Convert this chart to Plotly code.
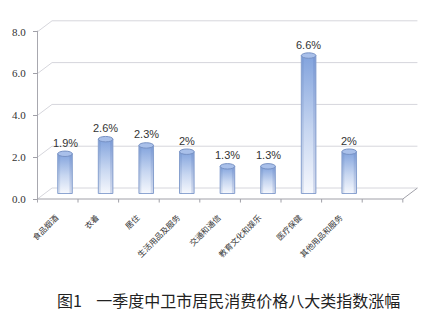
import plotly.graph_objects as go

categories = ["食品烟酒", "衣着", "居住", "生活用品及服务", "交通和通信", "教育文化和娱乐", "医疗保健", "其他用品和服务"]
values = [1.9, 2.6, 2.3, 2.0, 1.3, 1.3, 6.6, 2.0]
y_ticks = [0, 2, 4, 6, 8]
title_text = "图1\u00a0\u00a0\u00a0\u00a0一季度中卫市居民消费价格八大类指数涨幅"

# perspective offsets (data units)
DX = 0.18
DY = 0.263
BW = 0.36
N_SLOTS = 9

X_RANGE = [-0.69, 8.694]
Y_RANGE = [-0.502, 8.397]

fig = go.Figure()

shapes = []
grid_c = "#d6d6dc"
edge_c = "#a0a0a8"
x_left = -0.5
x_right = N_SLOTS - 0.5
for t in y_ticks:
    path = (f"M {x_left-DX},{t-DY} L {x_left+DX},{t+DY} L {x_right+DX},{t+DY}")
    shapes.append(dict(type="path", path=path, xref="x", yref="y",
                       line=dict(color=grid_c, width=1), layer="below"))
# floor front edge and right diagonal
shapes.append(dict(type="path",
                   path=f"M {x_left-DX},{-DY} L {x_right-DX},{-DY} L {x_right+DX},{DY}",
                   xref="x", yref="y", line=dict(color=edge_c, width=1), layer="below"))
# front y axis line
shapes.append(dict(type="line", x0=x_left-DX, x1=x_left-DX, y0=-DY, y1=y_ticks[-1]-DY+0.05,
                   xref="x", yref="y", line=dict(color=edge_c, width=1), layer="below"))
# category boundary ticks on floor front edge
for k in range(N_SLOTS + 1):
    xb = k - 0.5 - DX
    shapes.append(dict(type="line", x0=xb, x1=xb, y0=-DY, y1=-DY-0.17,
                       xref="x", yref="y", line=dict(color=edge_c, width=1), layer="below"))

# bars as gradient-filled cylinders
for i, v in enumerate(values):
    xs = [i - BW/2, i + BW/2, i + BW/2, i - BW/2, i - BW/2]
    ys = [0, 0, v, v, 0]
    fig.add_trace(go.Scatter(
        x=xs, y=ys, mode="lines", fill="toself",
        line=dict(color="#8ea6d2", width=1),
        fillgradient=dict(type="vertical",
                          colorscale=[[0, "#f6f8fd"], [0.45, "#c8d7f1"], [1, "#82a3dd"]]),
        hoverinfo="skip", showlegend=False))
    # darker side shading
    fig.add_trace(go.Scatter(
        x=[i - BW/2, i - BW/2 + 0.06, i - BW/2 + 0.06, i - BW/2, i - BW/2],
        y=[0, 0, v, v, 0], mode="lines", fill="toself",
        line=dict(width=0), fillcolor="rgba(90,120,180,0.18)",
        hoverinfo="skip", showlegend=False))
    fig.add_trace(go.Scatter(
        x=[i + BW/2 - 0.07, i + BW/2, i + BW/2, i + BW/2 - 0.07, i + BW/2 - 0.07],
        y=[0, 0, v, v, 0], mode="lines", fill="toself",
        line=dict(width=0), fillcolor="rgba(90,120,180,0.22)",
        hoverinfo="skip", showlegend=False))
    shapes.append(dict(type="circle", xref="x", yref="y",
                       x0=i - BW/2, x1=i + BW/2, y0=v - 0.13, y1=v + 0.13,
                       fillcolor="#a9c0ea", line=dict(color="#7892c4", width=1),
                       layer="above"))

annotations = []
for i, v in enumerate(values):
    annotations.append(dict(x=i, y=v, xref="x", yref="y", text=f"{v:g}%",
                            showarrow=False, yshift=11, yanchor="middle",
                            font=dict(size=11, color="#333333",
                                      family="Liberation Sans, Noto Sans CJK SC")))
annotations.append(dict(x=0.502, y=-0.515, xref="paper", yref="paper",
                        text=title_text, showarrow=False, xanchor="center", yanchor="middle",
                        font=dict(size=16, color="#222222", family="Noto Sans CJK SC")))

# dummy trace for the front y axis
fig.add_trace(go.Scatter(x=[None], y=[None], yaxis="y2", showlegend=False, hoverinfo="skip"))

fig.update_layout(
    width=447, height=320,
    margin=dict(l=37, r=29, t=18, b=116),
    paper_bgcolor="white", plot_bgcolor="white",
    showlegend=False,
    shapes=shapes, annotations=annotations,
    xaxis=dict(range=X_RANGE, showgrid=False, zeroline=False, showline=False,
               tickmode="array", tickvals=[i - DX - 0.04 for i in range(len(categories))],
               ticktext=categories, tickangle=-45,
               ticks="outside", ticklen=5, tickcolor="rgba(0,0,0,0)",
               tickfont=dict(size=8, color="#333333", family="Noto Sans CJK SC")),
    yaxis=dict(range=Y_RANGE, showgrid=False, zeroline=False, showline=False,
               showticklabels=False, ticks=""),
    yaxis2=dict(range=[Y_RANGE[0] + DY, Y_RANGE[1] + DY], overlaying="y",
                anchor="free", position=0, side="left",
                tickmode="array", tickvals=y_ticks, tickformat=".1f",
                ticks="outside", ticklen=4, tickcolor=edge_c, ticklabelstandoff=5,
                showgrid=False, zeroline=False, showline=False,
                tickfont=dict(size=11, color="#333333", family="Liberation Serif")),
)

fig.write_html("out.html")
